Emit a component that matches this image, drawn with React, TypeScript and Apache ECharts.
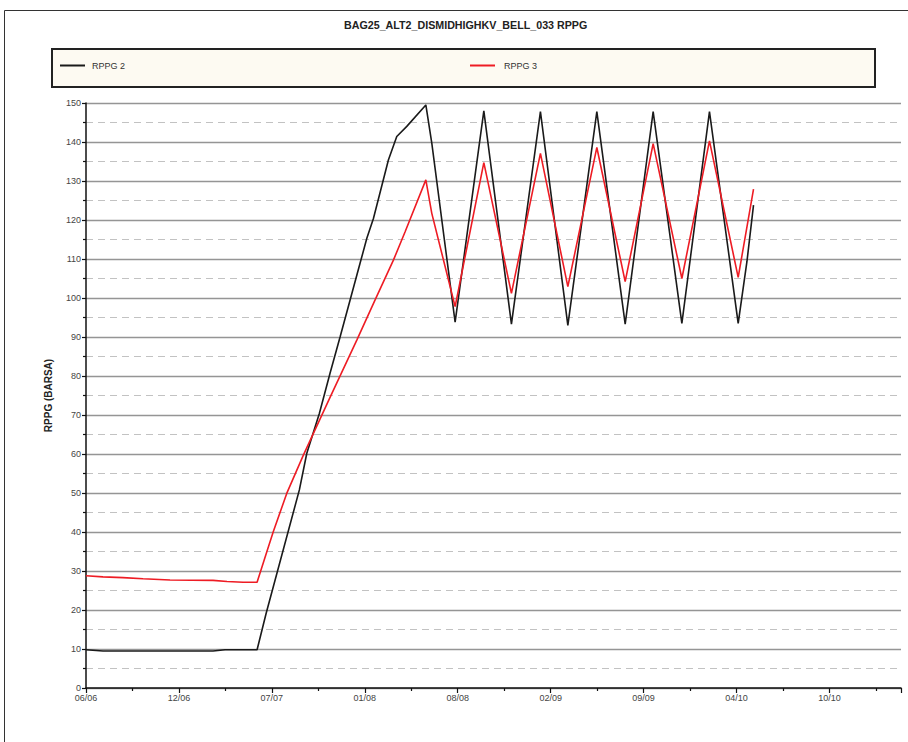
import React, { useEffect, useRef } from "react";
import * as echarts from "echarts";

// Date labels on the horizontal axis, one per major tick
const xLabels = ["06/06", "12/06", "07/07", "01/08", "08/08", "02/09", "09/09", "04/10", "10/10"];

// RPPG 2: positions in tick units along the time axis, and pressure (BARSA)
const rppg2T = [0, 0.183, 1.367, 1.496, 1.841, 1.938, 2.296, 2.376, 2.511, 2.626, 2.734, 2.842, 2.949, 3.022, 3.093, 3.254, 3.344, 3.452, 3.657, 3.721, 3.972, 4.281, 4.578, 4.89, 5.185, 5.497, 5.802, 6.103, 6.412, 6.709, 7.018, 7.112, 7.183];
const rppg2V = [9.8, 9.5, 9.5, 9.8, 9.8, 19.1, 50.8, 60.2, 70.4, 80.7, 90, 99.5, 108.9, 115.3, 120.4, 135.4, 141.4, 144, 149.5, 139.7, 93.8, 148, 93.3, 147.8, 93, 147.8, 93.3, 147.8, 93.5, 147.8, 93.5, 109.3, 123.8];

// RPPG 3
const rppg3T = [0, 0.183, 0.398, 0.614, 0.904, 1.367, 1.518, 1.69, 1.841, 1.945, 2.016, 2.16, 2.339, 2.626, 2.914, 3.111, 3.308, 3.434, 3.657, 3.721, 3.972, 4.281, 4.578, 4.89, 5.185, 5.497, 5.802, 6.103, 6.412, 6.709, 7.018, 7.183];
const rppg3V = [28.8, 28.5, 28.3, 28.0, 27.7, 27.6, 27.3, 27.1, 27.1, 34.9, 40.1, 49.9, 59.7, 74.5, 89.2, 99.5, 109.7, 117, 130.3, 121.7, 97.8, 134.7, 101.2, 137.1, 102.9, 138.6, 104.2, 139.6, 105, 140.3, 105.3, 127.9];

const FONT = "Liberation Sans, Arial, sans-serif";

export default function App() {
  const ref = useRef<HTMLDivElement>(null);

  useEffect(() => {
    if (!ref.current) return;
    const chart = echarts.init(ref.current, undefined, { renderer: "svg" });
    const legendText = { fontFamily: FONT, fontSize: 9, color: "#333" };
    chart.setOption({
      animation: false,
      backgroundColor: "#ffffff",
      textStyle: { fontFamily: FONT },
      title: {
        text: "BAG25_ALT2_DISMIDHIGHKV_BELL_033 RPPG",
        left: 344,
        top: 19,
        padding: 0,
        textStyle: { fontFamily: FONT, fontSize: 10.7, fontWeight: "bold", color: "#222" },
      },
      graphic: [
        {
          type: "rect",
          shape: { x: 4.5, y: 10.5, width: 1000, height: 1000 },
          style: { fill: "none", stroke: "#333", lineWidth: 1 },
          z: -10,
        },
        {
          type: "rect",
          shape: { x: 52, y: 49, width: 823, height: 38 },
          style: { fill: "#fdfaf2", stroke: "#222", lineWidth: 2 },
          z: -5,
        },
      ],
      legend: [
        {
          data: ["RPPG 2"],
          left: 60,
          top: 61,
          padding: 0,
          icon: "rect",
          itemWidth: 25,
          itemHeight: 2,
          textStyle: { ...legendText, padding: [0, 0, 0, 2] },
        },
        {
          data: ["RPPG 3"],
          left: 470,
          top: 61,
          padding: 0,
          icon: "rect",
          itemWidth: 25,
          itemHeight: 2,
          textStyle: { ...legendText, padding: [0, 0, 0, 4] },
        },
      ],
      grid: { left: 86, top: 103, right: 7, bottom: 54, containLabel: false },
      xAxis: {
        type: "value",
        min: 0,
        max: 8.77,
        interval: 1,
        axisLine: { show: true, lineStyle: { color: "#111", width: 1.5 } },
        axisTick: { show: true, length: 5, lineStyle: { color: "#111", width: 1.2 } },
        minorTick: { show: true, splitNumber: 2, length: 3, lineStyle: { color: "#111", width: 1.2 } },
        splitLine: { show: false },
        axisLabel: {
          fontFamily: FONT,
          fontSize: 9,
          color: "#444",
          margin: 5,
          showMaxLabel: false,
          formatter: (v: number) => {
            const i = Math.round(v);
            return Math.abs(v - i) < 1e-6 && xLabels[i] ? xLabels[i] : "";
          },
        },
      },
      yAxis: {
        type: "value",
        min: 0,
        max: 150,
        interval: 10,
        name: "RPPG (BARSA)",
        nameLocation: "middle",
        nameGap: 33,
        nameTextStyle: { fontFamily: FONT, fontSize: 10, fontWeight: "bold", color: "#222" },
        axisLine: { show: true, lineStyle: { color: "#111", width: 1.5 } },
        axisTick: { show: true, length: 4, lineStyle: { color: "#111", width: 1.2 } },
        minorTick: { show: true, splitNumber: 2, length: 3, lineStyle: { color: "#111", width: 1.2 } },
        splitLine: { show: true, lineStyle: { color: "#959595", width: 1.4 } },
        minorSplitLine: { show: true, lineStyle: { color: "#c2c2c2", width: 1.2, type: [7, 5] } },
        axisLabel: { fontFamily: FONT, fontSize: 9, color: "#444", margin: 5 },
      },
      series: [
        {
          name: "RPPG 2",
          type: "line",
          data: rppg2T.map((t, i) => [t, rppg2V[i]]),
          showSymbol: false,
          symbol: "none",
          lineStyle: { color: "#1a1a1a", width: 1.6 },
          itemStyle: { color: "#1a1a1a" },
          z: 3,
        },
        {
          name: "RPPG 3",
          type: "line",
          data: rppg3T.map((t, i) => [t, rppg3V[i]]),
          showSymbol: false,
          symbol: "none",
          lineStyle: { color: "#ee1c24", width: 1.6 },
          itemStyle: { color: "#ee1c24" },
          z: 4,
        },
      ],
    });
    return () => chart.dispose();
  }, []);

  return (
    <div
      ref={ref}
      style={{ position: "fixed", left: 0, top: 0, width: 908, height: 742 }}
    />
  );
}
